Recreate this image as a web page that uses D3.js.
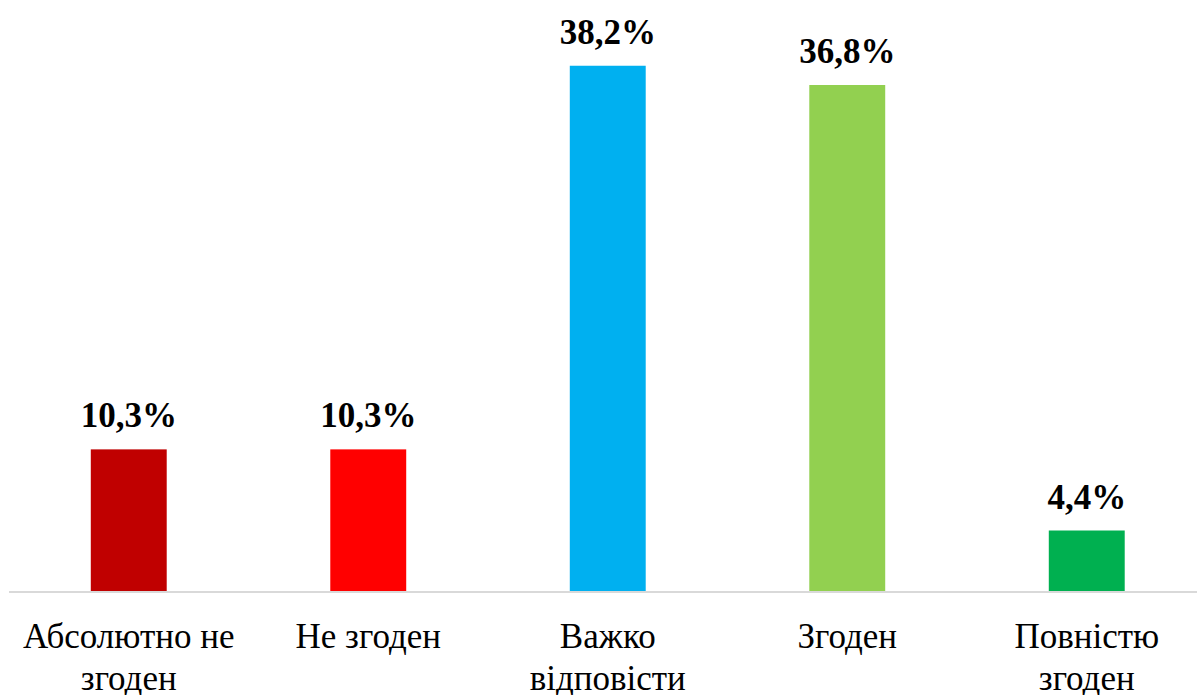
<!DOCTYPE html>
<html>
<head>
<meta charset="utf-8">
<script src="https://cdn.jsdelivr.net/npm/d3@7"></script>
<style>
  html, body { margin: 0; padding: 0; background: #fff; }
  svg { display: block; }
  #chart text, #chart tspan { font-family: "Liberation Serif" !important; }
</style>
</head>
<body>
<svg id="chart" width="1197" height="695"></svg>
<script>
// Survey answers and their shares (%)
const categories = [
  ["Абсолютно не", "згоден"],
  ["Не згоден"],
  ["Важко", "відповісти"],
  ["Згоден"],
  ["Повністю", "згоден"]
];
const values = [10.3, 10.3, 38.2, 36.8, 4.4];
const colors = ["#C00000", "#FF0000", "#00B0F0", "#92D050", "#00B050"];

const FONT = "Liberation Serif";
const svg = d3.select("#chart");
const baseY = 591;

const x = d3.scaleBand()
  .domain(d3.range(values.length))
  .range([9, 1206.5])
  .paddingInner(0.683)
  .paddingOuter(0.3415);

const y = d3.scaleLinear()
  .domain([0, 42])
  .range([baseY, baseY - 42 * 13.75]);

// bars
svg.append("g")
  .selectAll("rect")
  .data(values)
  .join("rect")
  .attr("x", (d, i) => x(i))
  .attr("width", x.bandwidth())
  .attr("y", d => y(d))
  .attr("height", d => y(0) - y(d))
  .attr("fill", (d, i) => colors[i]);

// category axis line
svg.append("line")
  .attr("x1", 9).attr("x2", 1197)
  .attr("y1", baseY + 1).attr("y2", baseY + 1)
  .attr("stroke", "#d9d9d9")
  .attr("stroke-width", 2);

// value labels
svg.append("g")
  .selectAll("text")
  .data(values)
  .join("text")
  .style("font-family", FONT, "important")
  .attr("font-weight", "bold")
  .attr("font-size", 35)
  .attr("fill", "#000")
  .attr("x", (d, i) => x(i) + x.bandwidth() / 2)
  .attr("y", d => y(d) - 22)
  .attr("text-anchor", "middle")
  .text(d => d3.format(".1f")(d).replace(".", ",") + "%");

// category labels (wrapped)
const lab = svg.append("g")
  .selectAll("text")
  .data(categories)
  .join("text")
  .style("font-family", FONT, "important")
  .attr("font-size", 35)
  .attr("fill", "#000")
  .attr("text-anchor", "middle");

lab.each(function(lines, i) {
  const t = d3.select(this);
  lines.forEach((ln, k) => {
    t.append("tspan")
      .style("font-family", FONT, "important")
      .attr("x", x(i) + x.bandwidth() / 2)
      .attr("y", 648 + k * 42)
      .text(ln);
  });
});
</script>
</body>
</html>
